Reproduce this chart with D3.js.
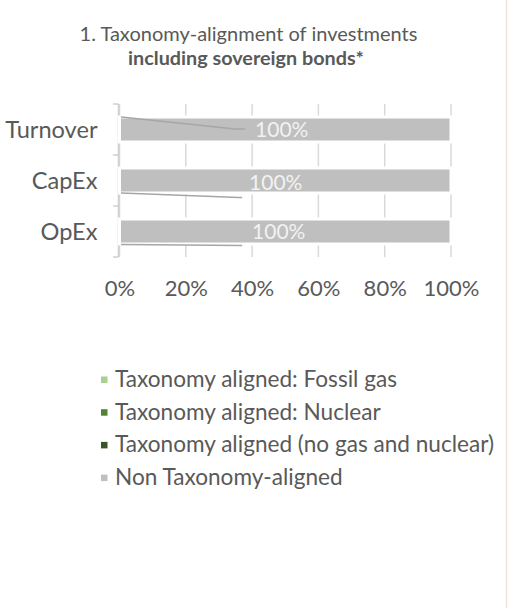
<!DOCTYPE html>
<html>
<head>
<meta charset="utf-8">
<script src="https://cdn.jsdelivr.net/npm/d3@7"></script>
<style>
  html, body { margin: 0; padding: 0; background: #ffffff; }
  svg { display: block; }
  text { font-family: Lato, "Open Sans", sans-serif; }
</style>
</head>
<body>
<svg id="chart" width="508" height="608"></svg>
<script>
// ---------- data ----------
const titleLine1 = "1. Taxonomy-alignment of investments";
const titleLine2 = "including sovereign bonds*";
const categories = ["Turnover", "CapEx", "OpEx"];
const seriesNames = [
  "Taxonomy aligned: Fossil gas",
  "Taxonomy aligned: Nuclear",
  "Taxonomy aligned (no gas and nuclear)",
  "Non Taxonomy-aligned"
];
const fossilGas  = [0, 0, 0];
const nuclear    = [0, 0, 0];
const alignedOther = [0, 0, 0];
const nonAligned = [100, 100, 100];
const seriesColors = ["#a9d18e", "#548235", "#375623", "#bfbfbf"];
const xTicks = [0, 20, 40, 60, 80, 100];
// leader lines of the hidden zero-value labels (end point in % of axis)
const leaderEndPct = [34.8, 36.0, 37.0];
const leaderTailPct = [37.8, 37.0, 37.0];

// ---------- layout ----------
const svg = d3.select("#chart");
const W = 508, H = 608;
const plot = { left: 119.5, right: 451, top: 104, bottom: 257 };
const textColor = "#595959";

const x = d3.scaleLinear().domain([0, 100]).range([plot.left, plot.right]);
const y = d3.scaleBand().domain(categories).range([plot.top, plot.bottom]).paddingInner(0.51).paddingOuter(0.255);
const yBand = d3.scaleBand().domain(categories).range([plot.top, plot.bottom]);

// right border line
svg.append("line").attr("x1", 506.5).attr("x2", 506.5).attr("y1", 0).attr("y2", H)
  .attr("stroke", "#eee2d9").attr("stroke-width", 1.5);

// title
svg.append("text").attr("x", 248.5).attr("y", 41).attr("text-anchor", "middle")
  .attr("fill", textColor).style("font-size", "20px").text(titleLine1);
svg.append("text").attr("x", 246).attr("y", 65).attr("text-anchor", "middle")
  .attr("fill", textColor).style("font-size", "19.8px").style("font-weight", "bold").text(titleLine2);

// gridlines
svg.append("g").selectAll("line").data(xTicks).join("line")
  .attr("x1", d => x(d)).attr("x2", d => x(d))
  .attr("y1", plot.top).attr("y2", plot.bottom)
  .attr("stroke", "#d9d9d9").attr("stroke-width", 1.5);

// category axis
const yAxis = d3.axisLeft(yBand).tickSize(0).tickPadding(22);
const gy = svg.append("g").attr("transform", `translate(${plot.left},0)`).call(yAxis);
gy.select(".domain").remove();
gy.selectAll("text").attr("fill", textColor).style("font-size", "23.6px").attr("dy", "0.36em");
// axis line and boundary ticks
svg.append("line").attr("x1", plot.left - 1).attr("x2", plot.left - 1)
  .attr("y1", plot.top).attr("y2", plot.bottom).attr("stroke", "#cfcfcf").attr("stroke-width", 1.5);
const bounds = categories.map(c => yBand(c)).concat([plot.bottom]);
svg.append("g").selectAll("line").data(bounds).join("line")
  .attr("x1", plot.left - 6.5).attr("x2", plot.left - 1)
  .attr("y1", d => d).attr("y2", d => d)
  .attr("stroke", "#cfcfcf").attr("stroke-width", 1.5);

// stacked bars
const rows = categories.map((c, i) => ({
  cat: c, v: [fossilGas[i], nuclear[i], alignedOther[i], nonAligned[i]]
}));
const stack = d3.stack().keys([0, 1, 2, 3]).value((d, k) => d.v[k]);
const stacked = stack(rows);
svg.append("g").selectAll("g").data(stacked).join("g")
  .attr("fill", (d, i) => seriesColors[i])
  .selectAll("rect").data(d => d.filter(s => s[1] - s[0] > 0)).join("rect")
  .attr("x", d => x(d[0])).attr("width", d => x(d[1]) - x(d[0]))
  .attr("y", d => y(d.data.cat)).attr("height", y.bandwidth())
  .attr("stroke", "#ffffff").attr("stroke-width", 3);

// leader lines
const leaderStartDy = [-12.5, 12.5, 13];
const leaderEndDy = [-0.5, 17, 14];
categories.forEach((c, i) => {
  const cy = y(c) + y.bandwidth() / 2;
  const pts = [[x(0) + 1.5, cy + leaderStartDy[i]], [x(leaderEndPct[i]), cy + leaderEndDy[i]], [x(leaderTailPct[i]), cy + leaderEndDy[i]]];
  svg.append("path").attr("d", d3.line()(pts)).attr("fill", "none")
    .attr("stroke", "#a6a6a6").attr("stroke-width", 1.5);
});

// bar value labels
const labelDx = [-3.5, -9.5, -6.5];
const labelDy = [7.7, 9, 7];
svg.append("g").selectAll("text").data(rows).join("text")
  .attr("x", (d, i) => x(50) + labelDx[i])
  .attr("y", (d, i) => y(d.cat) + y.bandwidth() / 2 + labelDy[i])
  .attr("text-anchor", "middle").attr("fill", "#f2f2f2").style("font-size", "21px")
  .text(d => d.v[3] + "%");

// x axis tick labels
const xAxis = d3.axisBottom(x).tickValues(xTicks).tickSize(0).tickPadding(0).tickFormat(d => d + "%");
const gx = svg.append("g").attr("transform", `translate(0,296)`).call(xAxis);
gx.select(".domain").remove();
gx.selectAll("text").attr("fill", textColor).style("font-size", "22px").attr("dy", 0);

// legend
const legend = svg.append("g").selectAll("g").data(seriesNames).join("g")
  .attr("transform", (d, i) => `translate(101,${387 + i * 32.7})`);
legend.append("rect").attr("x", 0).attr("y", -10.5).attr("width", 6.5).attr("height", 6.5)
  .attr("fill", (d, i) => seriesColors[i]);
legend.append("text").attr("x", 14).attr("y", 0).attr("fill", textColor)
  .style("font-size", "22.6px").text(d => d);
</script>
</body>
</html>
